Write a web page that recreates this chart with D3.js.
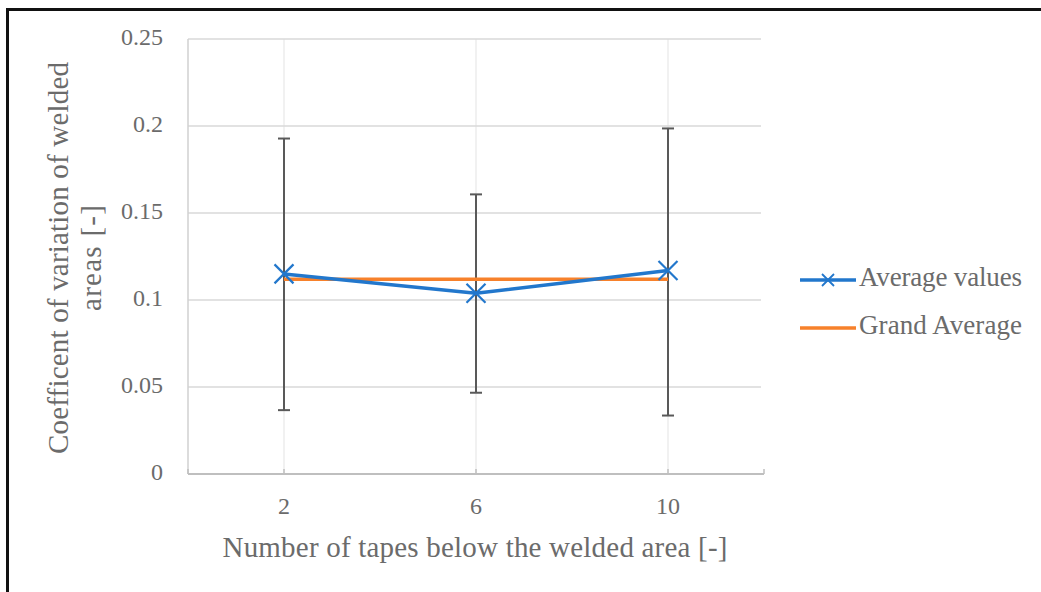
<!DOCTYPE html>
<html>
<head>
<meta charset="utf-8">
<script src="https://cdn.jsdelivr.net/npm/d3@7"></script>
<style>
  html, body { margin: 0; padding: 0; background: #fff; }
  svg { display: block; }
  text { font-family: "Liberation Serif", "Times New Roman", serif; fill: #6b6b6b; }
</style>
</head>
<body>
<svg id="chart" width="1041" height="592"></svg>
<script>
// ---- data ----
const categories = ["2", "6", "10"];
const averageValues = [0.1150, 0.1039, 0.1169];
const errorUpper = [0.1928, 0.1607, 0.1986];
const errorLower = [0.0367, 0.0467, 0.0336];
const grandAverage = [0.1119, 0.1119, 0.1119];
const yTicks = [0, 0.05, 0.1, 0.15, 0.2, 0.25];
const yTickLabels = ["0", "0.05", "0.1", "0.15", "0.2", "0.25"];
const seriesNames = ["Average values", "Grand Average"];
const xTitle = "Number of tapes below the welded area [-]";
const yTitleLines = ["Coefficent of variation of welded", "areas [-]"];

// ---- layout ----
const W = 1041, H = 592;
const plot = { left: 188, right: 764, top: 39, bottom: 474 };
const blue = "#2277cc", orange = "#f7812b", errColor = "#595959";

const svg = d3.select("#chart");

// outer frame
svg.append("rect").attr("x", 7.5).attr("y", 9.5).attr("width", W + 20).attr("height", H + 20)
  .attr("fill", "none").attr("stroke", "#111").attr("stroke-width", 3);

const x = d3.scaleBand().domain(categories).range([plot.left, plot.right]).padding(0);
const y = d3.scaleLinear().domain([0, 0.25]).range([plot.bottom, plot.top]);
const cx = c => x(c) + x.bandwidth() / 2;

// vertical category gridlines
svg.append("g").selectAll("line").data(categories).join("line")
  .attr("x1", d => cx(d)).attr("x2", d => cx(d))
  .attr("y1", plot.top).attr("y2", plot.bottom)
  .attr("stroke", "#ececec").attr("stroke-width", 1.5);

// horizontal gridlines
svg.append("g").selectAll("line").data(yTicks.slice(1)).join("line")
  .attr("x1", plot.left).attr("x2", plot.right - 3)
  .attr("y1", d => y(d)).attr("y2", d => y(d))
  .attr("stroke", "#d9d9d9").attr("stroke-width", 1.5);

// y axis line
svg.append("line").attr("x1", plot.left).attr("x2", plot.left)
  .attr("y1", plot.top).attr("y2", plot.bottom)
  .attr("stroke", "#d0d0d0").attr("stroke-width", 1.5);

// x axis line with inward ticks
svg.append("line").attr("x1", plot.left).attr("x2", plot.right)
  .attr("y1", plot.bottom).attr("y2", plot.bottom)
  .attr("stroke", "#bfbfbf").attr("stroke-width", 2);
const tickXs = [plot.left, ...categories.map(cx), plot.right];
svg.append("g").selectAll("line").data(tickXs).join("line")
  .attr("x1", d => d).attr("x2", d => d)
  .attr("y1", plot.bottom).attr("y2", plot.bottom - 5)
  .attr("stroke", "#bfbfbf").attr("stroke-width", 1.5);

// x tick labels
svg.append("g").selectAll("text").data(categories).join("text")
  .attr("x", d => cx(d)).attr("y", 508)
  .attr("text-anchor", "middle").attr("dominant-baseline", "middle")
  .style("font-size", "24px").text(d => d);

// y tick labels
svg.append("g").selectAll("text").data(yTicks).join("text")
  .attr("x", 163).attr("y", d => y(d))
  .attr("text-anchor", "end").attr("dominant-baseline", "middle")
  .style("font-size", "24px").text((d, i) => yTickLabels[i]);

// axis titles
svg.append("text").attr("x", 475).attr("y", 550)
  .attr("text-anchor", "middle").attr("dominant-baseline", "middle")
  .attr("textLength", 505).attr("lengthAdjust", "spacing")
  .style("font-size", "29px").text(xTitle);

const yTitleLens = [392, 106];
const yTitleX = [61, 94];
yTitleLines.forEach((t, i) => {
  svg.append("text")
    .attr("transform", `translate(${yTitleX[i]},258) rotate(-90)`)
    .attr("text-anchor", "middle").attr("dominant-baseline", "middle")
    .attr("textLength", yTitleLens[i]).attr("lengthAdjust", "spacing")
    .style("font-size", "29px").text(t);
});

// error bars
const errG = svg.append("g");
categories.forEach((c, i) => {
  const xc = cx(c);
  errG.append("line").attr("x1", xc).attr("x2", xc)
    .attr("y1", y(errorUpper[i])).attr("y2", y(errorLower[i]))
    .attr("stroke", errColor).attr("stroke-width", 2);
  [errorUpper[i], errorLower[i]].forEach(v => {
    errG.append("line").attr("x1", xc - 6).attr("x2", xc + 6)
      .attr("y1", y(v)).attr("y2", y(v))
      .attr("stroke", errColor).attr("stroke-width", 2);
  });
});

// grand average line
const line = d3.line().x((d, i) => cx(categories[i])).y(d => y(d));
svg.append("path").datum(grandAverage).attr("d", line)
  .attr("fill", "none").attr("stroke", orange).attr("stroke-width", 3.5);

// average values line
svg.append("path").datum(averageValues).attr("d", line)
  .attr("fill", "none").attr("stroke", blue).attr("stroke-width", 3.5)
  .attr("stroke-linejoin", "round");

// markers (X)
function drawX(g, px, py, r, w) {
  g.append("path")
    .attr("d", `M${px - r},${py - r}L${px + r},${py + r}M${px - r},${py + r}L${px + r},${py - r}`)
    .attr("stroke", blue).attr("stroke-width", w).attr("fill", "none");
}
const mk = svg.append("g");
averageValues.forEach((v, i) => drawX(mk, cx(categories[i]), y(v), 9.5, 2.2));

// legend
const lg = svg.append("g");
const legendItems = [
  { name: seriesNames[0], color: blue, marker: true, y: 280, len: 163 },
  { name: seriesNames[1], color: orange, marker: false, y: 328, len: 163 }
];
legendItems.forEach(it => {
  lg.append("line").attr("x1", 800).attr("x2", 856).attr("y1", it.y).attr("y2", it.y)
    .attr("stroke", it.color).attr("stroke-width", 3.5);
  if (it.marker) drawX(lg, 828, it.y, 6, 1.8);
  lg.append("text").attr("x", 859).attr("y", it.y)
    .attr("dominant-baseline", "middle")
    .attr("textLength", it.len).attr("lengthAdjust", "spacing")
    .style("font-size", "27px").text(it.name);
});
</script>
</body>
</html>
